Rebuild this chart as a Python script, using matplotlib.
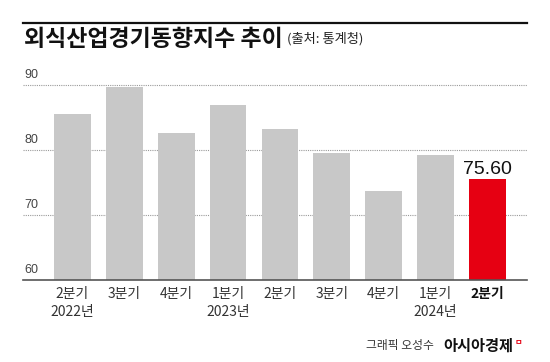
import matplotlib
matplotlib.use("Agg")
import matplotlib.pyplot as plt
import matplotlib.transforms as mtransforms

plt.rcParams['font.family'] = ['Noto Sans CJK KR', 'DejaVu Sans']

# data
quarters = ["2분기", "3분기", "4분기", "1분기", "2분기", "3분기", "4분기", "1분기", "2분기"]
years = ["2022년", "", "", "2023년", "", "", "", "2024년", ""]
values = [85.52, 89.71, 82.63, 86.93, 83.22, 79.48, 73.73, 79.16, 75.60]
yticks = [60, 70, 80, 90]

W, H = 550, 362
fig = plt.figure(figsize=(W / 100, H / 100), dpi=100)
fig.patch.set_facecolor("white")

left, right, bottom, top = 23, 527, 280, 65
ax = fig.add_axes([left / W, (H - bottom) / H, (right - left) / W, (bottom - top) / H])

x = list(range(len(values)))
colors = ["#c8c8c8"] * (len(values) - 1) + ["#e60012"]
ax.bar(x, [v - 60 for v in values], bottom=60, width=0.71, color=colors, zorder=2)

ax.set_xlim(-0.95, 8.76)
ax.set_ylim(60, 93.08)

num_font = ['Liberation Sans', 'DejaVu Sans']

# dotted grid lines behind bars, tick labels above the line
trans = mtransforms.blended_transform_factory(ax.transAxes, ax.transData)
for t in yticks[1:]:
    ax.axhline(t, color="#9a9a9a", lw=0.8, ls=(0, (1, 1)), zorder=1)
for t in yticks:
    ax.text(0.002, t + 0.6, str(t), transform=trans, ha="left", va="bottom",
            fontsize=9, color="#444444", family=num_font)

ax.set_yticks([])
for s in ["left", "right", "top"]:
    ax.spines[s].set_visible(False)
ax.spines["bottom"].set_color("#555555")
ax.spines["bottom"].set_linewidth(1.2)

labels = [q + ("\n" + y if y else "") for q, y in zip(quarters, years)]
ax.set_xticks(x)
ax.set_xticklabels(labels, fontsize=10, color="#333333", linespacing=1.4)
ax.tick_params(axis="x", length=0, pad=5)
ax.get_xticklabels()[-1].set_fontweight("bold")
ax.get_xticklabels()[-1].set_color("#111111")

# value label on the last bar
ax.text(x[-1], values[-1] + 0.1, f"{values[-1]:.2f}", ha="center", va="bottom",
        fontsize=14, color="#111111", family=num_font)

# title block
fig.add_artist(plt.Line2D([left / W, right / W], [1 - 22.5 / H, 1 - 22.5 / H],
                          color="#111111", lw=1.6))
fig.text(24 / W, 1 - 39 / H, "외식산업경기동향지수 추이", fontsize=16.5,
         fontweight="heavy", color="#111111", va="center", ha="left")
fig.text(287 / W, 1 - 39 / H, "(출처: 통계청)", fontsize=9.5, color="#222222",
         va="center", ha="left")

# credit
fig.text(434 / W, 1 - 346 / H, "그래픽 오성수", fontsize=8.5, color="#333333",
         va="center", ha="right")
fig.text(513 / W, 1 - 346 / H, "아시아경제", fontsize=11, fontweight="heavy",
         color="#111111", va="center", ha="right")
fig.text(515 / W, 1 - 342 / H, "ㅁ", fontsize=6, fontweight="bold",
         color="#e60012", va="center", ha="left")

fig.savefig("out.png", dpi=100)
